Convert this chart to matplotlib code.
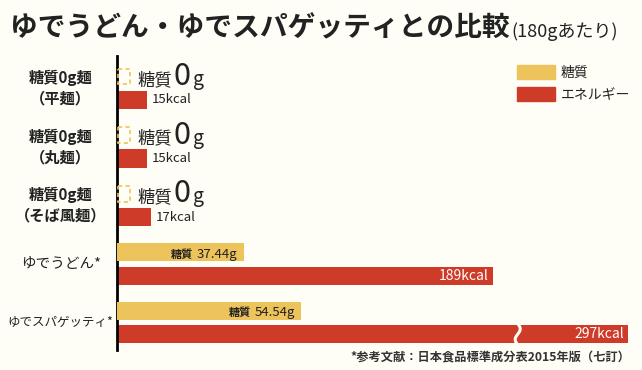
import numpy as np
import matplotlib.pyplot as plt
from matplotlib.patches import Rectangle, Patch

plt.rcParams['font.family'] = ['Noto Sans CJK JP', 'DejaVu Sans']

# data
foods = ['糖質0g麺\n（平麺）', '糖質0g麺\n（丸麺）', '糖質0g麺\n（そば風麺）', 'ゆでうどん*', 'ゆでスパゲッティ*']
carbs = [0, 0, 0, 37.44, 54.54]      # g per 180g
energy = [15, 15, 17, 189, 297]      # kcal per 180g

BG = '#fefdf6'
YEL = '#edc45c'
RED = '#cf3b29'
INK = '#222222'

# the kcal axis hides 200..243 kcal so the long bar fits (wavy cut on the bar)
BREAK = (200, 243)
GAP = 3


def fwd(x):
    return np.interp(x, [-1e4, BREAK[0], BREAK[1], 1e4],
                     [-1e4, BREAK[0], BREAK[0] + GAP, BREAK[0] + GAP + 1e4 - BREAK[1]])


def inv(x):
    return np.interp(x, [-1e4, BREAK[0], BREAK[0] + GAP, BREAK[0] + GAP + 1e4 - BREAK[1]],
                     [-1e4, BREAK[0], BREAK[1], 1e4])


fig = plt.figure(figsize=(6.42, 3.70), dpi=100, facecolor=BG)
ax = fig.add_axes([117 / 642, 20 / 370, 525 / 642, 294 / 370])
ax.set_facecolor('none')
ax.set_xscale('function', functions=(fwd, inv))
ax.set_xlim(0, 304)
ax.set_ylim(4.47, -0.55)

ax2 = ax.twiny()
ax2.set_xlim(0, 155.3)
ax2.set_axis_off()

for s in ['top', 'right', 'bottom']:
    ax.spines[s].set_visible(False)
ax.spines['left'].set_linewidth(2)
ax.spines['left'].set_color('black')
ax.tick_params(left=False, bottom=False, top=False, labelleft=False, labelbottom=False, labeltop=False)

pos = np.arange(len(foods))
y_c = pos - 0.2
y_e = pos + 0.2
h = 0.31

ax.barh(y_e, energy, height=h, color=RED)
ax2.barh(y_c, carbs, height=h, color=YEL)

for i, (name, c, k) in enumerate(zip(foods, carbs, energy)):
    # group label on the left
    two = '\n' in name
    fs = 11 if two else (10.5 if len(name) < 8 else 9)
    ax2.annotate(name, xy=(0, pos[i]), xytext=(-40.5, 0), textcoords='offset points',
                 ha='center', va='center', multialignment='center', fontsize=fs,
                 fontweight='bold' if two else 'normal', color=INK, linespacing=1.35)

    # energy label
    if k < 100:
        ax.annotate(f'{k}kcal', xy=(k, y_e[i]), xytext=(3.6, 0), textcoords='offset points',
                    ha='left', va='center', fontsize=9.5, color=INK)
    else:
        ax.annotate(f'{k}kcal', xy=(k, y_e[i]), xytext=(-3, 0), textcoords='offset points',
                    ha='right', va='center', fontsize=10, color='white')

    # wavy cut where the axis skips
    if k > BREAK[1]:
        t = np.linspace(0, 1, 60)
        yy = y_e[i] - 0.18 + 0.36 * t
        xx = BREAK[0] + (BREAK[1] - BREAK[0]) * (0.5 + 0.42 * np.sin(2 * np.pi * t))
        ax.plot(xx, yy, color=BG, lw=2.2, solid_capstyle='butt')

    # carb label
    if c == 0:
        ax2.add_patch(Rectangle((0.4, y_c[i] - 0.135), 3.3, 0.27, fill=False,
                                edgecolor=YEL, lw=1.2, linestyle=(0, (2.5, 2))))
        t1 = ax2.annotate('糖質', xy=(0, y_c[i]), xytext=(14.4, -6.1), textcoords='offset points',
                          ha='left', va='baseline', fontsize=12.5, color=INK)
        t2 = ax2.annotate('0', xy=(1, y_c[i]), xycoords=(t1, 'data'), xytext=(1, -6.1),
                          textcoords='offset points', ha='left', va='baseline', fontsize=22, color=INK)
        ax2.annotate('g', xy=(1, y_c[i]), xycoords=(t2, 'data'), xytext=(2, -6.1),
                     textcoords='offset points', ha='left', va='baseline', fontsize=14, color=INK)
    else:
        t1 = ax2.annotate(f'{c:.2f}g', xy=(c, y_c[i]), xytext=(-4.3, -4), textcoords='offset points',
                          ha='right', va='baseline', fontsize=9.5, color=INK)
        ax2.annotate('糖質', xy=(0, y_c[i]), xycoords=(t1, 'data'), xytext=(-3, -4),
                     textcoords='offset points', ha='right', va='baseline', fontsize=8,
                     fontweight='bold', color=INK)

fig.legend(handles=[Patch(color=YEL), Patch(color=RED)], labels=['糖質', 'エネルギー'],
           loc='upper left', bbox_to_anchor=(517 / 642, 1 - 65 / 370), frameon=False,
           handlelength=2.7, handleheight=1.15, handletextpad=0.45, labelspacing=0.55,
           borderpad=0, borderaxespad=0, fontsize=10, labelcolor=INK)

title = fig.text(10 / 642, 1 - 28 / 370, 'ゆでうどん・ゆでスパゲッティとの比較', fontsize=20,
                 fontweight='bold', va='center', ha='left', color=INK)
ax.annotate('(180gあたり)', xy=(1, 0), xycoords=title, xytext=(1.5, 1), textcoords='offset points',
            ha='left', va='bottom', fontsize=13, color=INK, annotation_clip=False)

fig.text(630 / 642, 1 - 357 / 370, '*参考文献：日本食品標準成分表2015年版（七訂）', ha='right', va='center',
         fontsize=8.8, fontweight='bold', color='#333333')

fig.savefig('out.png', dpi=100, facecolor=BG)
